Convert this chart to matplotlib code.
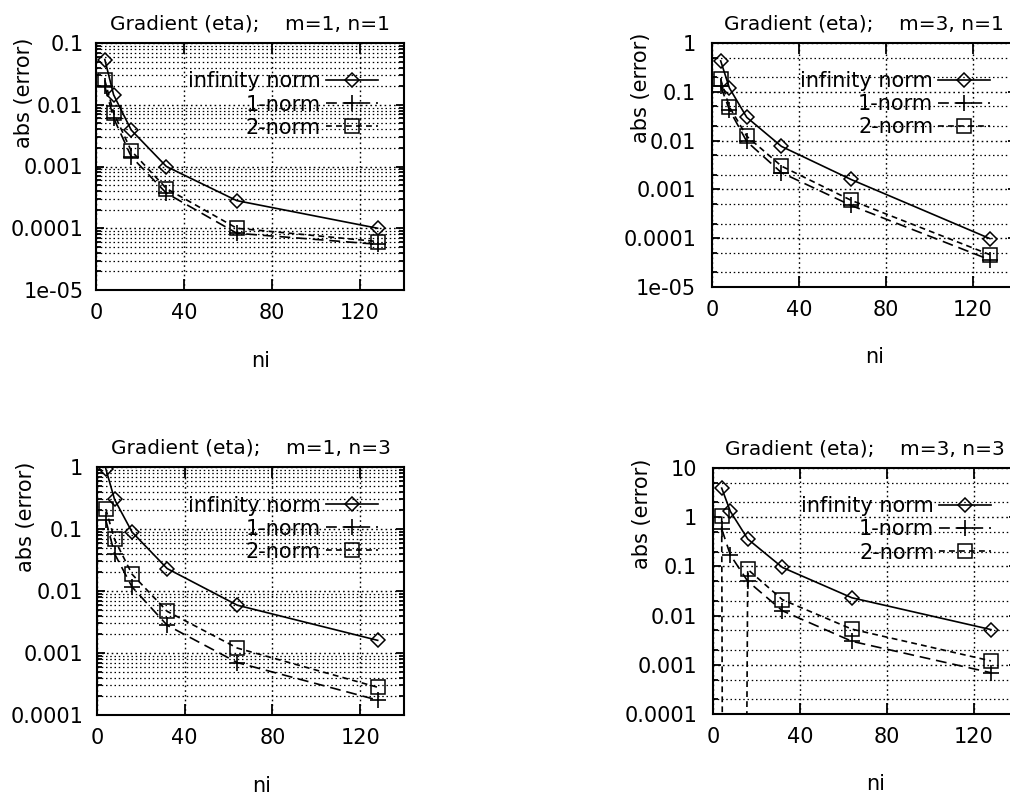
import matplotlib
matplotlib.use('Agg')
import matplotlib.pyplot as plt
from matplotlib.ticker import FixedLocator, LogLocator, FuncFormatter, NullFormatter

plt.rcParams['font.family'] = ['DejaVu Sans']
plt.rcParams['font.size'] = 15

ni = [4, 8, 16, 32, 64, 128]
labels = ['infinity norm', '1-norm', '2-norm']

# m=1, n=1
inf_11 = [0.054, 0.0145, 0.0039, 0.001, 0.00028, 0.0001]
one_11 = [0.02, 0.0061, 0.00145, 0.00037, 8.3e-5, 5.5e-5]
two_11 = [0.025, 0.0074, 0.0018, 0.00044, 0.0001, 6.1e-5]

# m=3, n=1
inf_31 = [0.43, 0.12, 0.030, 0.0076, 0.0016, 9.8e-5]
one_31 = [0.13, 0.043, 0.0096, 0.0022, 0.00047, 3.6e-5]
two_31 = [0.18, 0.049, 0.0123, 0.003, 0.0006, 4.6e-5]

# m=1, n=3
inf_13 = [0.94, 0.30, 0.089, 0.023, 0.0059, 0.0016]
one_13 = [0.14, 0.04, 0.0116, 0.0028, 0.0007, 0.000174]
two_13 = [0.21, 0.068, 0.0186, 0.0047, 0.0012, 0.00028]

# m=3, n=3  (2-norm at ni=8 falls far below the plotted range)
inf_33 = [3.9, 1.31, 0.36, 0.095, 0.023, 0.0052]
one_33 = [0.58, 0.17, 0.05, 0.0125, 0.003, 0.00069]
two_33 = [1.04, 1e-60, 0.087, 0.021, 0.0053, 0.0012]

W, H = 1010, 796
fig = plt.figure(figsize=(W / 100, H / 100), dpi=100)

# (left, top, width, height) in pixels, title, data, ylim, minor subs, ytick pad, ylabel y
panels = [
    ((96, 43, 308, 247), 'Gradient (eta);    m=1, n=1',
     (inf_11, one_11, two_11), (1e-5, 0.1), range(2, 10), 9, 0.80),
    ((712, 43, 304, 244), 'Gradient (eta);    m=3, n=1',
     (inf_31, one_31, two_31), (1e-5, 1), (2, 5), 11.5, 0.815),
    ((97, 467, 307, 248), 'Gradient (eta);    m=1, n=3',
     (inf_13, one_13, two_13), (1e-4, 1), range(2, 10), 10, 0.80),
    ((713, 468, 304, 246), 'Gradient (eta);    m=3, n=3',
     (inf_33, one_33, two_33), (1e-4, 10), (2, 5), 11.5, 0.812),
]

dot = (0, (1.2, 2.2))

for (l, t, w, h), title, (inf, one, two), ylim, subs, ypad, ylab_y in panels:
    ax = fig.add_axes([l / W, 1 - (t + h) / H, w / W, h / H])
    ax.set_yscale('log')
    ax.set_xlim(0, 140)
    ax.set_ylim(*ylim)

    ax.plot(ni, inf, color='k', lw=1.2, marker='D', ms=7.5, mfc='none',
            mec='k', mew=1.1, label=labels[0])
    ax.plot(ni, one, color='k', lw=1.2, ls=(0, (6.5, 3.5)), marker='+',
            ms=12, mew=1.2, label=labels[1])
    ax.plot(ni, two, color='k', lw=1.2, ls=(0, (3.5, 2.5)), marker='s',
            ms=10, mfc='none', mec='k', mew=1.1, label=labels[2])

    ax.xaxis.set_major_locator(FixedLocator([0, 40, 80, 120]))
    ax.yaxis.set_major_locator(LogLocator(base=10, numticks=20))
    ax.yaxis.set_minor_locator(LogLocator(base=10, subs=list(subs), numticks=20))
    ax.yaxis.set_major_formatter(FuncFormatter(lambda v, p: '%g' % v))
    ax.yaxis.set_minor_formatter(NullFormatter())

    ax.grid(True, which='major', color='k', ls=dot, lw=1.0)
    ax.grid(True, which='minor', axis='y', color='k', ls=dot, lw=0.9)
    ax.set_axisbelow(True)

    ax.tick_params(which='both', direction='in', top=True, right=True,
                   width=1.3, colors='k', labelsize=15)
    ax.tick_params(axis='x', length=8, pad=9.5)
    ax.tick_params(axis='y', which='major', length=6, pad=ypad)
    ax.tick_params(axis='y', which='minor', length=3.5)
    for s in ax.spines.values():
        s.set_linewidth(1.5)

    ax.set_title(title, pad=9.5, fontsize=14.5)
    ax.set_ylabel('abs (error)', fontsize=15)
    ax.yaxis.set_label_coords(-0.2, ylab_y)
    ax.set_xlabel('ni', fontsize=15)
    ax.xaxis.set_label_coords(0.535, -0.245)

    ax.legend(loc='upper right', bbox_to_anchor=(0.916, 0.885), markerfirst=False,
              frameon=False, handlelength=2.5, handletextpad=0.25,
              labelspacing=0.15, borderpad=0, borderaxespad=0, fontsize=15)

fig.savefig('out.png', dpi=100)
